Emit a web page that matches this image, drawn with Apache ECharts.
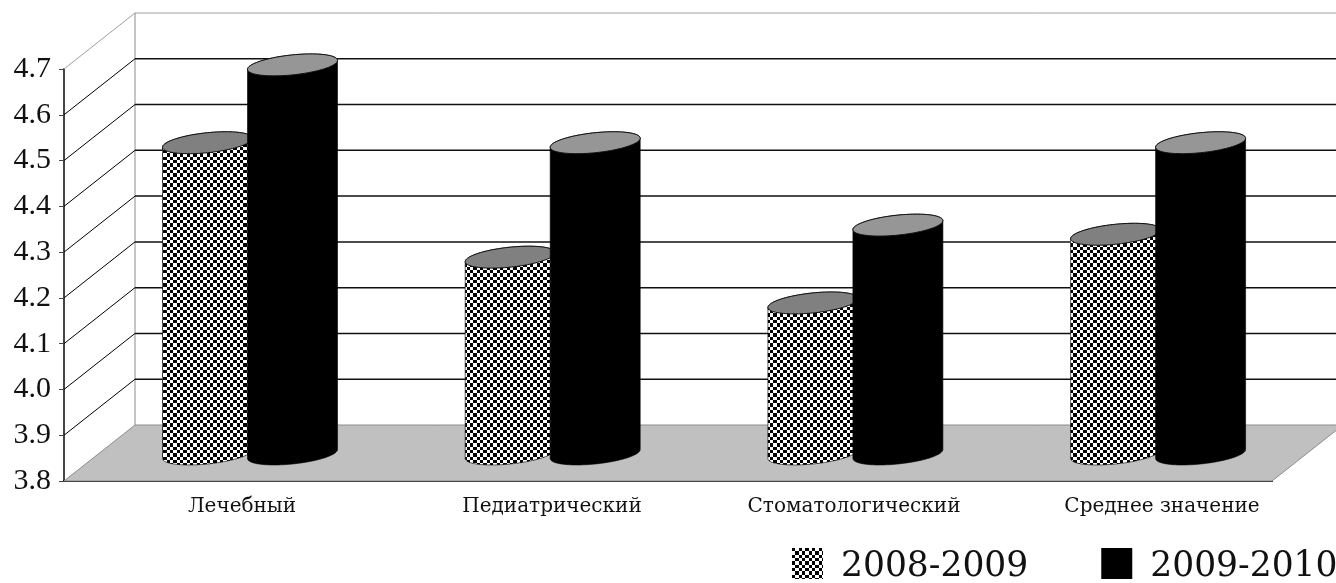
<!DOCTYPE html>
<html><head><meta charset="utf-8">
<style>html,body{margin:0;padding:0;background:#fff;overflow:hidden}#c{width:1336px;height:583px}</style>
<script src="https://cdn.jsdelivr.net/npm/echarts@6/dist/echarts.min.js"></script>
</head><body><div id="c"></div>
<script>
const categories = ['Лечебный','Педиатрический','Стоматологический','Среднее значение'];
const series2008 = [4.48,4.23,4.13,4.28];
const series2009 = [4.65,4.48,4.30,4.48];
const seriesNames = ['2008-2009','2009-2010'];
const yTicks = [3.9,4.0,4.1,4.2,4.3,4.4,4.5,4.6];
const yMin = 3.8, yMax = 4.7;

const DX = 71, DY = -56;
const labelShift = [27,35,35,41];
const cells = [0,3,7,10,13,17,20];
const cv = document.createElement('canvas');
cv.width = 20; cv.height = 20;
const g = cv.getContext('2d');
g.fillStyle = '#fff'; g.fillRect(0,0,20,20);
g.fillStyle = '#000';
for(let a=0;a<6;a++) for(let b=0;b<6;b++) if((a+b)%2===0)
  g.fillRect(cells[a],cells[b],cells[a+1]-cells[a],cells[b+1]-cells[b]);
const checker = {image: cv, repeat: 'repeat'};

function wallItem(params, api){
  const cs = params.coordSys;
  const v = api.value(0);
  const y = api.coord([0, v])[1];
  const l = cs.x, r = cs.x + cs.width;
  return {type:'group', silent:true, children:[
    {type:'line', shape:{x1:l,y1:y,x2:l+DX,y2:y+DY}, style:{stroke:'#000',lineWidth:1}},
    {type:'line', shape:{x1:l+DX,y1:y+DY,x2:r+DX,y2:y+DY}, style:{stroke:'#111',lineWidth:1.5}}
  ]};
}
function frameItem(params, api){
  const cs = params.coordSys;
  const l = cs.x, r = cs.x + cs.width;
  const top = api.coord([0,yMax])[1], bot = api.coord([0,yMin])[1];
  return {type:'group', silent:true, children:[
    {type:'polygon', shape:{points:[[l,bot],[l+DX,bot+DY],[r+DX,bot+DY],[r,bot]]}, style:{fill:'#c0c0c0',stroke:'#8c8c8c',lineWidth:1}},
    {type:'polyline', shape:{points:[[l,top],[l+DX,top+DY],[r+DX,top+DY]]}, style:{stroke:'#a0a0a0',lineWidth:1,fill:null}},
    {type:'line', shape:{x1:l+DX,y1:top+DY,x2:l+DX,y2:bot+DY}, style:{stroke:'#8c8c8c',lineWidth:1}}
  ]};
}
function cylinder(offset, bodyFill, topFill){
  return function(params, api){
    const i = api.value(0), v = api.value(1);
    const p = api.coord([i, v]), b = api.coord([i, yMin]);
    const a = 45, s = 4.5, h = 10;
    const cx = p[0] + DX/2 + offset - 0.5 + i*0.7;
    const ty = p[1] + DY/2 + 1, by = b[1] + DY/2 + 1;
    const pt = (cy,t)=>[cx + a*Math.cos(t), cy - s*Math.cos(t) + h*Math.sin(t)];
    const n = 48, body = [], cap = [];
    for(let k=0;k<=n;k++) body.push(pt(by, Math.PI*k/n));
    for(let k=0;k<=n;k++) body.push(pt(ty, Math.PI + Math.PI*k/n));
    for(let k=0;k<2*n;k++) cap.push(pt(ty, Math.PI*k/n));
    return {type:'group', children:[
      {type:'polygon', shape:{points:body}, style:{fill:bodyFill, stroke:'#000', lineWidth:0.6}},
      {type:'polygon', shape:{points:cap}, style:{fill:topFill, stroke:'#111', lineWidth:1}}
    ]};
  };
}
const chart = echarts.init(document.getElementById('c'), null, {renderer:'canvas'});
chart.setOption({
  animation:false,
  backgroundColor:'#fff',
  grid:{left:64, top:69, width:1208, height:412},
  legend:{
    left:792, top:548, width:700, padding:0, itemWidth:31, itemHeight:31, itemGap:73, icon:'rect',
    selectedMode:false,
    formatter:'{t|{name}}',
    textStyle:{fontFamily:'DejaVu Serif', fontSize:34.5, color:'#111',
      rich:{t:{fontFamily:'DejaVu Serif', fontSize:34.5, color:'#111', padding:[8,0,0,13]}}},
    data:seriesNames
  },
  xAxis:{type:'category',
    data:categories.map((c,i)=>({value:c, textStyle:{padding:[0,0,0,2*labelShift[i]]}})),
    axisLine:{lineStyle:{color:'#000',width:2}},
    axisTick:{length:6, lineStyle:{color:'#333',width:1}},
    axisLabel:{fontFamily:'DejaVu Serif', fontSize:20, color:'#111', margin:16, interval:0},
    splitLine:{show:false}},
  yAxis:{type:'value', min:yMin, max:yMax, interval:0.1,
    axisLine:{show:true, lineStyle:{color:'#444',width:2}},
    axisTick:{show:true, length:5, lineStyle:{color:'#444',width:1}},
    axisLabel:{fontFamily:'Liberation Serif', fontSize:30, color:'#111', margin:13, padding:[4,0,0,0], formatter:v=>v.toFixed(1)},
    splitLine:{show:false}},
  series:[
    {type:'custom', name:'frame', z:1, silent:true, renderItem:frameItem, data:[[0]], encode:{x:0}, clip:false},
    {type:'custom', name:'walls', z:1, silent:true, renderItem:wallItem, data:yTicks.map(v=>[v]), encode:{y:0}, clip:false},
    {type:'custom', name:seriesNames[0], z:2, renderItem:cylinder(-42.5, checker, '#808080'),
      itemStyle:{color:checker}, encode:{x:0,y:1}, data:series2008.map((v,i)=>[i,v]), clip:false},
    {type:'custom', name:seriesNames[1], z:3, renderItem:cylinder(42.5, '#000', '#969696'),
      itemStyle:{color:'#000'}, encode:{x:0,y:1}, data:series2009.map((v,i)=>[i,v]), clip:false}
  ]
});
</script></body></html>
